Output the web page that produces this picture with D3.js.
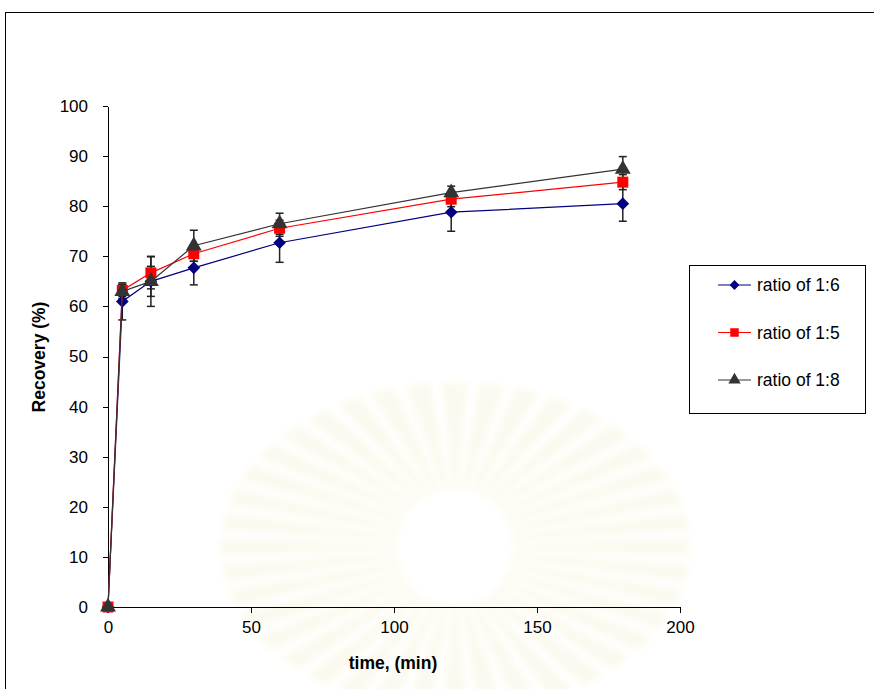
<!DOCTYPE html>
<meta charset="utf-8">
<style>
body { margin: 0; background: #fff; }
svg { font-family: "Liberation Sans", Arial, sans-serif; }
.axis path, .axis line { stroke: #000; stroke-width: 1px; shape-rendering: crispEdges; }
.axis text { font-size: 17px; fill: #000; }
.label { font-size: 17.5px; font-weight: bold; }
.legend text { font-size: 17.5px; }
</style>
<body>
<svg width="874" height="689"></svg>
<script src="https://d3js.org/d3.v7.min.js"></script>
<script>
var times = [0, 5, 15, 30, 60, 120, 180];
var ratio16 = [0, 61.0, 65.0, 67.7, 72.7, 78.8, 80.5];
var ratio15 = [0, 63.2, 66.7, 70.5, 75.6, 81.4, 84.8];
var ratio18 = [0, 63.0, 65.0, 72.1, 76.5, 82.7, 87.4];
var err16 = [0, 3.7, 3.0, 3.4, 3.9, 3.8, 3.5];
var err15 = [0, 1.2, 3.2, 1.5, 1.6, 1.5, 1.5];
var err18 = [0, 1.4, 5.0, 3.1, 2.1, 1.3, 2.5];
var xTicks = [0, 50, 100, 150, 200];
var yTicks = [0, 10, 20, 30, 40, 50, 60, 70, 80, 90, 100];
var seriesNames = ["ratio of 1:6", "ratio of 1:5", "ratio of 1:8"];

var svg = d3.select("svg");

// faint background emblem (watermark in the scanned page)
svg.append("defs").append("filter").attr("id", "soft")
    .append("feGaussianBlur").attr("stdDeviation", 3);
var wm = svg.append("g")
    .attr("transform", "translate(455,547)")
    .attr("filter", "url(#soft)");
d3.range(40).forEach(function(i) {
  var a = i / 40 * 2 * Math.PI, w = 0.055;
  var r0 = 58, rx = 235, ry = 165;
  var p = [[r0 * Math.cos(a - w), r0 * Math.sin(a - w)],
           [rx * Math.cos(a - w), ry * Math.sin(a - w)],
           [rx * Math.cos(a + w), ry * Math.sin(a + w)],
           [r0 * Math.cos(a + w), r0 * Math.sin(a + w)]];
  wm.append("path")
      .attr("d", "M" + p.join("L") + "Z")
      .attr("fill", "#fcfaf0");
});

// outer frame
svg.append("rect")
    .attr("x", 5.5).attr("y", 12.5)
    .attr("width", 900).attr("height", 700)
    .attr("fill", "none").attr("stroke", "#000");

var margin = {left: 108, top: 106},
    width = 572, height = 501;

var x = d3.scaleLinear().domain([0, 200]).range([0, width]);
var y = d3.scaleLinear().domain([0, 100]).range([height, 0]);

var g = svg.append("g")
    .attr("transform", "translate(" + margin.left + "," + margin.top + ")");

g.append("g")
    .attr("class", "axis")
    .attr("transform", "translate(0," + height + ")")
    .call(d3.axisBottom(x).tickValues(xTicks).tickSize(6).tickSizeOuter(0).tickPadding(8));

g.append("g")
    .attr("class", "axis")
    .call(d3.axisLeft(y).tickValues(yTicks).tickSize(5).tickSizeOuter(0).tickPadding(15));

svg.append("text")
    .attr("class", "label")
    .attr("x", 393).attr("y", 669)
    .attr("text-anchor", "middle")
    .text("time, (min)");

svg.append("text")
    .attr("class", "label")
    .attr("transform", "translate(45,357) rotate(-90)")
    .attr("text-anchor", "middle")
    .text("Recovery (%)");

// excel style diamond: square turned 45 degrees
var diamond = {
  draw: function(ctx, size) {
    var r = Math.sqrt(size / 2);
    ctx.moveTo(0, -r); ctx.lineTo(r, 0); ctx.lineTo(0, r); ctx.lineTo(-r, 0); ctx.closePath();
  }
};

var series = [
  {name: seriesNames[0], values: ratio16, err: err16, color: "#000080", symbol: diamond, size: 80},
  {name: seriesNames[1], values: ratio15, err: err15, color: "#ff0000", symbol: d3.symbolSquare, size: 121},
  {name: seriesNames[2], values: ratio18, err: err18, color: "#333333", symbol: d3.symbolTriangle, size: 110}
];

var line = d3.line()
    .x(function(d) { return x(d.t); })
    .y(function(d) { return y(d.v); });

series.forEach(function(s) {
  var pts = times.map(function(t, i) { return {t: t, v: s.values[i], e: s.err[i]}; });
  s.pts = pts;

  var eb = g.append("g").attr("stroke", "#222").attr("stroke-width", 1.5);
  pts.forEach(function(p) {
    if (!p.e) return;
    eb.append("line")
        .attr("x1", x(p.t)).attr("x2", x(p.t))
        .attr("y1", y(p.v - p.e)).attr("y2", y(p.v + p.e));
    [p.v - p.e, p.v + p.e].forEach(function(v) {
      eb.append("line")
          .attr("x1", x(p.t) - 4).attr("x2", x(p.t) + 4)
          .attr("y1", y(v)).attr("y2", y(v));
    });
  });
});

series.forEach(function(s) {
  g.append("path")
      .datum(s.pts)
      .attr("fill", "none")
      .attr("stroke", s.color)
      .attr("stroke-width", 1.2)
      .attr("d", line);

  g.selectAll(null)
      .data(s.pts)
      .enter().append("path")
      .attr("transform", function(d) { return "translate(" + x(d.t) + "," + y(d.v) + ")"; })
      .attr("d", d3.symbol().type(s.symbol).size(s.size))
      .attr("fill", s.color);
});

// legend
var legend = svg.append("g").attr("class", "legend");
legend.append("rect")
    .attr("x", 689.5).attr("y", 265.5)
    .attr("width", 176).attr("height", 148)
    .attr("fill", "#fff").attr("stroke", "#000");

series.forEach(function(s, i) {
  var ly = 285 + i * 47.5;
  legend.append("line")
      .attr("x1", 718).attr("x2", 751)
      .attr("y1", ly).attr("y2", ly)
      .attr("stroke", s.color).attr("stroke-width", 1.2);
  legend.append("path")
      .attr("transform", "translate(734.5," + ly + ")")
      .attr("d", d3.symbol().type(s.symbol).size(s.size * 0.6))
      .attr("fill", s.color);
  legend.append("text")
      .attr("x", 757).attr("y", ly + 6)
      .text(s.name);
});
</script>
</body>
